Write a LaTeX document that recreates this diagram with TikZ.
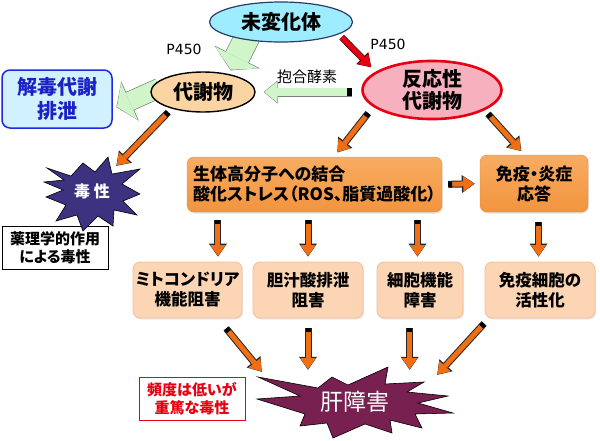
\documentclass[tikz,border=0pt]{standalone}
\usepackage{fontspec}
\setmainfont{Noto Sans CJK JP}[RawFeature=+palt]
\newfontfamily\latinfont{DejaVu Sans}
\usetikzlibrary{arrows.meta,calc,shapes.geometric,shadows}
\definecolor{figcyan}{RGB}{158,236,255}
\definecolor{fignavy}{RGB}{40,60,110}
\definecolor{figtan}{RGB}{250,212,162}
\definecolor{figpink}{RGB}{246,176,190}
\definecolor{figred}{RGB}{230,0,18}
\definecolor{figblue}{RGB}{30,40,230}
\definecolor{figsky}{RGB}{210,241,255}
\definecolor{figmint}{RGB}{208,245,200}
\definecolor{mintline}{RGB}{120,130,120}
\definecolor{figorange}{RGB}{240,110,20}
\definecolor{boxtop}{RGB}{248,172,98}
\definecolor{boxbot}{RGB}{242,148,62}
\definecolor{boxedge}{RGB}{232,142,62}
\definecolor{figpeach}{RGB}{252,214,180}
\definecolor{peachline}{RGB}{245,190,150}
\definecolor{figslate}{RGB}{60,50,128}
\definecolor{figplum}{RGB}{120,32,80}
\pgfdeclarelayer{bg}
\pgfsetlayers{bg,main}
\tikzset{
  fgell/.style ={ellipse,inner sep=0pt,align=center,font=\fontsize{20}{22}\selectfont\bfseries},
  fgbox/.style ={rectangle,inner sep=0pt,align=center},
  obox/.style  ={fgbox,rounded corners=7pt,top color=boxtop,bottom color=boxbot,draw=boxedge,line width=0.4pt,
                 drop shadow={opacity=0.22,shadow xshift=1pt,shadow yshift=-1.5pt},font=\fontsize{17}{20}\selectfont\bfseries},
  pbox/.style  ={fgbox,rounded corners=7pt,fill=figpeach,draw=peachline,line width=0.8pt,
                 drop shadow={opacity=0.18,shadow xshift=1pt,shadow yshift=-1.5pt},font=\fontsize{16.5}{20}\selectfont\bfseries},
  nbox/.style  ={fgbox,line width=1pt,fill=white,font=\fontsize{15}{18}\selectfont\bfseries},
  burst/.style ={draw=black,line width=0.6pt},
  lbl/.style   ={inner sep=1pt},
  o out/.style ={line width=7pt,draw=black!85,-{Triangle[length=13pt,width=18pt,line width=0pt]}},
  o in/.style  ={line width=5pt,draw=figorange,
                 {Rectangle[length=4pt,width=5pt,line width=0pt,color=black]}-{Triangle[length=11pt,width=15.4pt,line width=0pt,sep=0.6pt]}},
  r out/.style ={line width=6.6pt,draw=black!70!figred,-{Triangle[length=13pt,width=17pt,line width=0pt]}},
  r in/.style  ={line width=5pt,draw=figred,-{Triangle[length=11.4pt,width=14.8pt,line width=0pt,sep=0.6pt]}},
  ga out/.style={line width=26pt,draw=mintline,-{Triangle[length=15pt,width=51pt,line width=0pt]}},
  ga in/.style ={line width=24.6pt,draw=figmint,-{Triangle[length=13.6pt,width=48.6pt,line width=0pt,sep=0.7pt]}},
  gb out/.style={line width=20pt,draw=mintline,-{Triangle[length=15pt,width=43pt,line width=0pt]}},
  gb in/.style ={line width=18.6pt,draw=figmint,-{Triangle[length=13.6pt,width=40.6pt,line width=0pt,sep=0.7pt]}},
  gc out/.style={line width=9pt,draw=mintline,-{Triangle[length=14pt,width=23pt,line width=0pt]}},
  gc in/.style ={line width=7.6pt,draw=figmint,
                 {Rectangle[length=5pt,width=7.6pt,line width=0pt,color=black]}-{Triangle[length=12.6pt,width=20.6pt,line width=0pt,sep=0.7pt]}},
}
\newcommand{\blockarr}[4][]{%
  \draw[#2 out,#1] #3 -- #4;
  \draw[#2 in,#1] #3 -- #4;}

\begin{document}
\begin{tikzpicture}[x=1pt,y=-1pt]
  \useasboundingbox (0,0) rectangle (600,440);
  % top row
  \node[fgell,fill=figcyan,draw=fignavy,line width=1.2pt,minimum width=143pt,minimum height=40pt] (parent) at (281,22) {未変化体};
  \node[fgell,fill=figtan,draw=black,line width=1.4pt,minimum width=104pt,minimum height=40pt] (meta) at (203,92) {代謝物};
  \node[fgell,fill=figpink,draw=figred,line width=2.6pt,minimum width=139pt,minimum height=50pt] (rmeta) at (432,90) {反応性\\代謝物};
  \node[fgbox,rounded corners=8pt,fill=figsky,draw=figblue,line width=1.5pt,minimum width=110pt,minimum height=58pt,
        text=figblue!85!black,font=\fontsize{20}{24}\selectfont\bfseries] (detox) at (57,99) {解毒代謝\\排泄};
  \node[lbl,font=\latinfont\fontsize{14}{16}\selectfont] (p450a) at (184,49) {P450};
  \node[lbl,font=\latinfont\fontsize{14}{16}\selectfont] (p450b) at (388,44) {P450};
  \node[lbl,font=\fontsize{15}{17}\selectfont] (conj) at (307,77) {抱合酵素};
  % middle row
  \node[obox,minimum width=255pt,minimum height=55pt,align=left] (bind) at (314.5,184.5)
        {生体高分子への結合\\酸化ストレス（ROS、脂質過酸化）};
  \node[obox,minimum width=108pt,minimum height=57pt] (immune) at (534,183.5) {免疫・炎症\\応答};
  \node[nbox,draw=black,minimum width=106pt,minimum height=43pt] (pharm) at (55,248) {薬理学的作用\\による毒性};
  % lower row
  \node[pbox,minimum width=109pt,minimum height=56pt] (mito) at (187.5,290) {ミトコンドリア\\機能阻害};
  \node[pbox,minimum width=110pt,minimum height=56pt] (bile) at (308,290) {胆汁酸排泄\\阻害};
  \node[pbox,minimum width=86pt,minimum height=56pt] (cell) at (420,290) {細胞機能\\障害};
  \node[pbox,minimum width=110pt,minimum height=56pt] (immcell) at (540,290) {免疫細胞の\\活性化};
  \node[nbox,draw=figred,text=figred,minimum width=106pt,minimum height=43pt] (rare) at (192,398.5) {頻度は低いが\\重篤な毒性};
  % bursts
  \filldraw[burst,fill=figslate] (47,168) -- (71,176) -- (83,163) -- (95,172) -- (108,157) -- (112,174) -- (140,169)
    -- (122,184) -- (140,194) -- (123,201) -- (137,215) -- (114,210) -- (113,226) -- (98,216) -- (83,231)
    -- (77,215) -- (56,221) -- (66,205) -- (46,197) -- (63,190) -- (44,182) -- (64,180) -- cycle;
  \node[text=white,font=\fontsize{16}{18}\selectfont\bfseries] (tox) at (92,191) {毒 性};
  \filldraw[burst,fill=figplum] (258,377) -- (318,388) -- (332,377) -- (348,385) -- (388,367) -- (385,384)
    -- (424,382) -- (407,392) -- (448,396) -- (418,403) -- (453,413) -- (415,414) -- (422,428) -- (390,420)
    -- (392,433) -- (365,424) -- (333,438) -- (327,423) -- (300,426) -- (305,414) -- (257,399) -- (300,396) -- cycle;
  \node[fgbox,minimum width=186pt,minimum height=60pt,text=white,font=\fontsize{23}{25}\selectfont] (liver) at (355,402) {肝障害};
  % green block arrows, under the ellipses
  \begin{pgfonlayer}{bg}
    \blockarr[shorten <=-8pt,shorten >=4pt]{ga}{(parent.207)}{(meta.35)}
    \blockarr[shorten <=-10pt,shorten >=4pt]{gb}{(meta.west)}{(detox.-10)}
    \blockarr[shorten <=9pt,shorten >=8pt]{gc}{(meta.east -| rmeta.west)}{(meta.east)}
  \end{pgfonlayer}
  \blockarr[shorten <=4pt,shorten >=6pt]{r}{(parent.-12)}{(rmeta.162)}
  % orange arrows
  \blockarr[shorten <=5pt,shorten >=35pt]{o}{(meta.208)}{(tox.center)}
  \blockarr[shorten <=8pt,shorten >=5.5pt]{o}{(rmeta.196)}{(bind.55)}
  \blockarr[shorten <=5pt,shorten >=5pt]{o}{(rmeta.-21)}{(immune.108)}
  \blockarr[shorten <=6pt,shorten >=5pt]{o}{(bind.east)}{(immune.west)}
  \blockarr[shorten <=8pt,shorten >=5pt]{o}{(bind.south -| mito.43)}{(mito.43)}
  \blockarr[shorten <=8pt,shorten >=5pt]{o}{(bind.south -| bile.north)}{(bile.north)}
  \blockarr[shorten <=8pt,shorten >=5pt]{o}{(bind.south -| cell.95)}{(cell.95)}
  \blockarr[shorten <=10pt,shorten >=5pt]{o}{(immune.south -| immcell.93)}{(immcell.93)}
  \blockarr[shorten <=13pt]{o}{(mito.-43)}{(liver.north west)}
  \blockarr[shorten <=10pt,shorten >=2pt]{o}{(bile.south)}{(bile.south |- liver.north)}
  \blockarr[shorten <=10pt,shorten >=2pt]{o}{(cell.-110)}{(cell.-110 |- liver.north)}
  \blockarr[shorten <=7pt]{o}{(immcell.209)}{($(liver.north east)+(-11,3)$)}
\end{tikzpicture}
\end{document}
